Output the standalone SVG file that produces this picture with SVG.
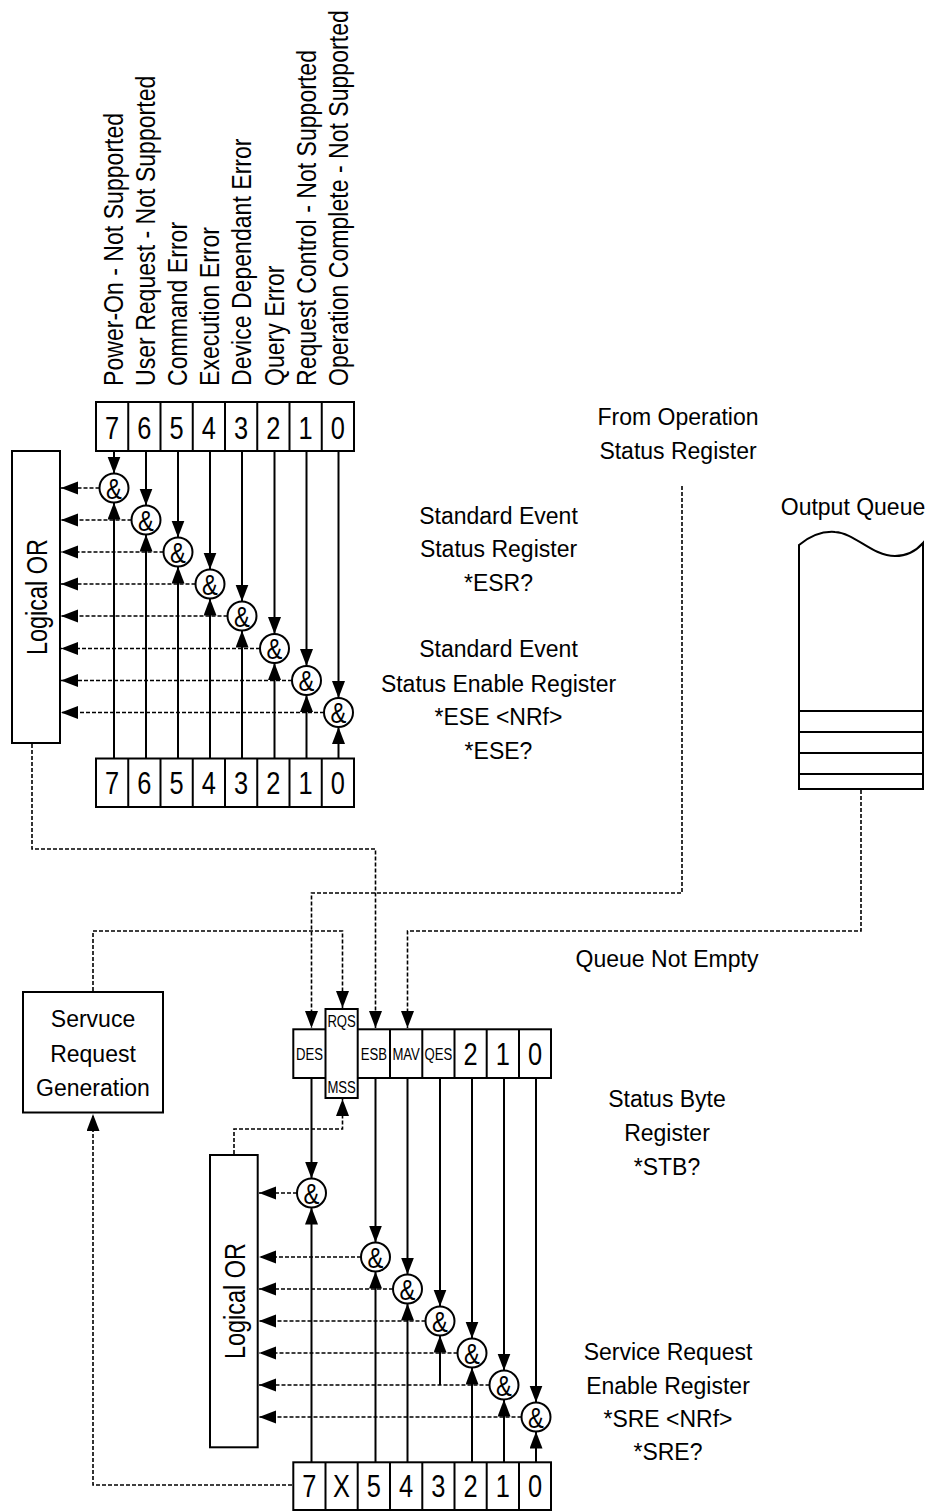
<svg xmlns="http://www.w3.org/2000/svg" width="930" height="1511" viewBox="0 0 930 1511">
<defs>
<marker id="ah" markerWidth="18" markerHeight="14" refX="17" refY="6.5" orient="auto" markerUnits="userSpaceOnUse" viewBox="0 0 18 14"><path d="M0,0 L17,6.5 L0,13 Z" fill="#000"/></marker>
<style>
.bx{fill:#fff;stroke:#000;stroke-width:2}
.dv{fill:none;stroke:#000;stroke-width:2}
.sl{fill:none;stroke:#000;stroke-width:2;marker-end:url(#ah)}
.dl{fill:none;stroke:#000;stroke-width:1.6;stroke-dasharray:4 2}
.da{fill:none;stroke:#000;stroke-width:1.6;stroke-dasharray:4 2;marker-end:url(#ah)}
.t{font-family:"Liberation Sans",Arial,sans-serif;font-size:23px;text-anchor:middle;fill:#000}
.lb{font-family:"Liberation Sans",Arial,sans-serif;font-size:28.5px;fill:#000}
.or{font-family:"Liberation Sans",Arial,sans-serif;font-size:29px;text-anchor:middle;fill:#000}
.dg{font-family:"Liberation Sans",Arial,sans-serif;font-size:31px;text-anchor:middle;fill:#000}
.sm{font-family:"Liberation Sans",Arial,sans-serif;font-size:16px;text-anchor:middle;fill:#000}
.amp{font-family:"Liberation Sans",Arial,sans-serif;font-size:29px;text-anchor:middle;fill:#000}
</style>
</defs>
<rect width="930" height="1511" fill="#fff"/>

<!-- top labels -->
<g id="bit-labels">
<text class="lb" transform="translate(122.5,386) rotate(-90) scale(0.81,1)">Power-On - Not Supported</text>
<text class="lb" transform="translate(154.7,386) rotate(-90) scale(0.81,1)">User Request - Not Supported</text>
<text class="lb" transform="translate(186.9,386) rotate(-90) scale(0.81,1)">Command Error</text>
<text class="lb" transform="translate(219.1,386) rotate(-90) scale(0.81,1)">Execution Error</text>
<text class="lb" transform="translate(251.3,386) rotate(-90) scale(0.81,1)">Device Dependant Error</text>
<text class="lb" transform="translate(283.5,386) rotate(-90) scale(0.81,1)">Query Error</text>
<text class="lb" transform="translate(315.7,386) rotate(-90) scale(0.81,1)">Request Control - Not Supported</text>
<text class="lb" transform="translate(347.9,386) rotate(-90) scale(0.81,1)">Operation Complete - Not Supported</text>
</g>

<!-- Standard Event Status Register -->
<g id="esr-register">
<rect class="bx" x="96" y="402" width="258" height="49"/>
<path class="dv" d="M128.25,402V451M160.5,402V451M192.75,402V451M225,402V451M257.25,402V451M289.5,402V451M321.75,402V451"/>
<g transform="translate(0,438.5)">
<text class="dg" transform="translate(112.1,0) scale(0.82,1)">7</text>
<text class="dg" transform="translate(144.4,0) scale(0.82,1)">6</text>
<text class="dg" transform="translate(176.6,0) scale(0.82,1)">5</text>
<text class="dg" transform="translate(208.9,0) scale(0.82,1)">4</text>
<text class="dg" transform="translate(241.1,0) scale(0.82,1)">3</text>
<text class="dg" transform="translate(273.4,0) scale(0.82,1)">2</text>
<text class="dg" transform="translate(305.6,0) scale(0.82,1)">1</text>
<text class="dg" transform="translate(337.9,0) scale(0.82,1)">0</text>
</g>
</g>

<!-- Standard Event Status Enable Register -->
<g id="ese-register">
<rect class="bx" x="96" y="758.5" width="258" height="48.5"/>
<path class="dv" d="M128.25,758.5V807M160.5,758.5V807M192.75,758.5V807M225,758.5V807M257.25,758.5V807M289.5,758.5V807M321.75,758.5V807"/>
<g transform="translate(0,794)">
<text class="dg" transform="translate(112.1,0) scale(0.82,1)">7</text>
<text class="dg" transform="translate(144.4,0) scale(0.82,1)">6</text>
<text class="dg" transform="translate(176.6,0) scale(0.82,1)">5</text>
<text class="dg" transform="translate(208.9,0) scale(0.82,1)">4</text>
<text class="dg" transform="translate(241.1,0) scale(0.82,1)">3</text>
<text class="dg" transform="translate(273.4,0) scale(0.82,1)">2</text>
<text class="dg" transform="translate(305.6,0) scale(0.82,1)">1</text>
<text class="dg" transform="translate(337.9,0) scale(0.82,1)">0</text>
</g>
</g>

<!-- Upper Logical OR -->
<g id="or-upper">
<rect class="bx" x="12" y="451" width="48" height="292"/>
<text class="or" transform="translate(47,597) rotate(-90) scale(0.81,1)">Logical OR</text>
</g>

<!-- Output queue -->
<g id="output-queue">
<path class="bx" d="M799,545 C810,536 822,531 835,532 C855,533 872,556 895,556 C907,556 916,551 923,543 L923,789 L799,789 Z"/>
<path class="dv" d="M799,711H923M799,732H923M799,753H923M799,774H923"/>
<text class="t" x="853" y="515">Output Queue</text>
</g>

<!-- Status Byte Register -->
<g id="stb-register">
<rect class="bx" x="293.3" y="1029.3" width="257.7" height="48.7"/>
<path class="dv" d="M390,1029.3V1078M422.3,1029.3V1078M454.5,1029.3V1078M486.7,1029.3V1078M519,1029.3V1078"/>
<rect class="bx" x="325.5" y="1009" width="32.2" height="89"/>
<text class="sm" transform="translate(309.5,1060) scale(0.82,1)">DES</text>
<text class="sm" transform="translate(341.6,1026.5) scale(0.82,1)">RQS</text>
<text class="sm" transform="translate(341.6,1093.3) scale(0.82,1)">MSS</text>
<text class="sm" transform="translate(373.8,1060) scale(0.82,1)">ESB</text>
<text class="sm" transform="translate(406.1,1060) scale(0.82,1)">MAV</text>
<text class="sm" transform="translate(438.4,1060) scale(0.82,1)">QES</text>
<text class="dg" transform="translate(470.6,1065) scale(0.82,1)">2</text>
<text class="dg" transform="translate(502.8,1065) scale(0.82,1)">1</text>
<text class="dg" transform="translate(535,1065) scale(0.82,1)">0</text>
</g>

<!-- Service Request Enable Register -->
<g id="sre-register">
<rect class="bx" x="293.3" y="1462.3" width="257.7" height="47.7"/>
<path class="dv" d="M325.5,1462.3V1510M357.7,1462.3V1510M390,1462.3V1510M422.3,1462.3V1510M454.5,1462.3V1510M486.7,1462.3V1510M519,1462.3V1510"/>
<g transform="translate(0,1497)">
<text class="dg" transform="translate(309.4,0) scale(0.82,1)">7</text>
<text class="dg" transform="translate(341.6,0) scale(0.82,1)">X</text>
<text class="dg" transform="translate(373.8,0) scale(0.82,1)">5</text>
<text class="dg" transform="translate(406.1,0) scale(0.82,1)">4</text>
<text class="dg" transform="translate(438.4,0) scale(0.82,1)">3</text>
<text class="dg" transform="translate(470.6,0) scale(0.82,1)">2</text>
<text class="dg" transform="translate(502.8,0) scale(0.82,1)">1</text>
<text class="dg" transform="translate(535,0) scale(0.82,1)">0</text>
</g>
</g>

<!-- Lower Logical OR -->
<g id="or-lower">
<rect class="bx" x="210" y="1155" width="47.7" height="292.3"/>
<text class="or" transform="translate(245,1301) rotate(-90) scale(0.81,1)">Logical OR</text>
</g>

<!-- Service request generation -->
<g id="srq-gen">
<rect class="bx" x="23" y="992" width="140" height="120.5"/>
<text class="t" x="93" y="1027">Servuce</text>
<text class="t" x="93" y="1061.5">Request</text>
<text class="t" x="93" y="1096">Generation</text>
</g>

<!-- connectors -->
<g id="connectors">
<path class="sl" d="M114,451V473.5"/>
<path class="sl" d="M146,451V505.5"/>
<path class="sl" d="M178,451V537.5"/>
<path class="sl" d="M210,451V569.5"/>
<path class="sl" d="M242,451V601.5"/>
<path class="sl" d="M274.5,451V634"/>
<path class="sl" d="M306.5,451V666"/>
<path class="sl" d="M338.5,451V698"/>
<path class="sl" d="M114,758.5V502.5"/>
<path class="sl" d="M146,758.5V534.5"/>
<path class="sl" d="M178,758.5V566.5"/>
<path class="sl" d="M210,758.5V598.5"/>
<path class="sl" d="M242,758.5V630.5"/>
<path class="sl" d="M274.5,758.5V663"/>
<path class="sl" d="M306.5,758.5V695"/>
<path class="sl" d="M338.5,758.5V727"/>
<path class="da" d="M99.5,488H61"/>
<path class="da" d="M131.5,520H61"/>
<path class="da" d="M163.5,552H61"/>
<path class="da" d="M195.5,584H61"/>
<path class="da" d="M227.5,616H61"/>
<path class="da" d="M260,648.5H61"/>
<path class="da" d="M292,680.5H61"/>
<path class="da" d="M324,712.5H61"/>

<path class="sl" d="M311.5,1078V1178.5"/>
<path class="sl" d="M375.5,1078V1242.5"/>
<path class="sl" d="M407.5,1078V1274.5"/>
<path class="sl" d="M440,1078V1306.5"/>
<path class="sl" d="M472,1078V1338.5"/>
<path class="sl" d="M504,1078V1370.5"/>
<path class="sl" d="M536,1078V1402.5"/>
<path class="sl" d="M311.5,1462V1207.5"/>
<path class="sl" d="M375.5,1462V1271.5"/>
<path class="sl" d="M407.5,1462V1303.5"/>
<path class="sl" d="M440,1385V1335.5"/>
<path class="sl" d="M472,1462V1367.5"/>
<path class="sl" d="M504,1462V1399.5"/>
<path class="sl" d="M536,1462V1431.5"/>
<path class="da" d="M297,1193H259"/>
<path class="da" d="M361,1257H259"/>
<path class="da" d="M393,1289H259"/>
<path class="da" d="M425.5,1321H259"/>
<path class="da" d="M457.5,1353H259"/>
<path class="da" d="M489.5,1385H259"/>
<path class="da" d="M521.5,1417H259"/>

<path class="da" d="M32,744V849H375.5V1028"/>
<path class="da" d="M682,486V893H311.5V1028"/>
<path class="da" d="M861,790V931H407.5V1028"/>
<path class="da" d="M93,991V931H342.5V1008"/>
<path class="da" d="M234,1154V1129H342.5V1099"/>
<path class="da" d="M292,1485H93V1114"/>
</g>

<!-- AND gates -->
<g id="gates-upper">
<g id="gate-e7"><circle class="bx" cx="114" cy="488" r="14.5"/><text class="amp" transform="translate(114,498.5) scale(0.82,1)">&amp;</text></g>
<g id="gate-e6"><circle class="bx" cx="146" cy="520" r="14.5"/><text class="amp" transform="translate(146,530.5) scale(0.82,1)">&amp;</text></g>
<g id="gate-e5"><circle class="bx" cx="178" cy="552" r="14.5"/><text class="amp" transform="translate(178,562.5) scale(0.82,1)">&amp;</text></g>
<g id="gate-e4"><circle class="bx" cx="210" cy="584" r="14.5"/><text class="amp" transform="translate(210,594.5) scale(0.82,1)">&amp;</text></g>
<g id="gate-e3"><circle class="bx" cx="242" cy="616" r="14.5"/><text class="amp" transform="translate(242,626.5) scale(0.82,1)">&amp;</text></g>
<g id="gate-e2"><circle class="bx" cx="274.5" cy="648.5" r="14.5"/><text class="amp" transform="translate(274.5,659) scale(0.82,1)">&amp;</text></g>
<g id="gate-e1"><circle class="bx" cx="306.5" cy="680.5" r="14.5"/><text class="amp" transform="translate(306.5,691) scale(0.82,1)">&amp;</text></g>
<g id="gate-e0"><circle class="bx" cx="338.5" cy="712.5" r="14.5"/><text class="amp" transform="translate(338.5,723) scale(0.82,1)">&amp;</text></g>
</g>
<g id="gates-lower">
<g id="gate-s7"><circle class="bx" cx="311.5" cy="1193" r="14.5"/><text class="amp" transform="translate(311.5,1203.5) scale(0.82,1)">&amp;</text></g>
<g id="gate-s5"><circle class="bx" cx="375.5" cy="1257" r="14.5"/><text class="amp" transform="translate(375.5,1267.5) scale(0.82,1)">&amp;</text></g>
<g id="gate-s4"><circle class="bx" cx="407.5" cy="1289" r="14.5"/><text class="amp" transform="translate(407.5,1299.5) scale(0.82,1)">&amp;</text></g>
<g id="gate-s3"><circle class="bx" cx="440" cy="1321" r="14.5"/><text class="amp" transform="translate(440,1331.5) scale(0.82,1)">&amp;</text></g>
<g id="gate-s2"><circle class="bx" cx="472" cy="1353" r="14.5"/><text class="amp" transform="translate(472,1363.5) scale(0.82,1)">&amp;</text></g>
<g id="gate-s1"><circle class="bx" cx="504" cy="1385" r="14.5"/><text class="amp" transform="translate(504,1395.5) scale(0.82,1)">&amp;</text></g>
<g id="gate-s0"><circle class="bx" cx="536" cy="1417" r="14.5"/><text class="amp" transform="translate(536,1427.5) scale(0.82,1)">&amp;</text></g>
</g>

<!-- free labels -->
<g id="labels">
<text class="t" x="678" y="424.5">From Operation</text>
<text class="t" x="678" y="459">Status Register</text>
<text class="t" x="498.5" y="524">Standard Event</text>
<text class="t" x="498.5" y="557">Status Register</text>
<text class="t" x="498.5" y="590.5">*ESR?</text>
<text class="t" x="498.5" y="657">Standard Event</text>
<text class="t" x="498.5" y="691.5">Status Enable Register</text>
<text class="t" x="498.5" y="725">*ESE &lt;NRf&gt;</text>
<text class="t" x="498.5" y="758.5">*ESE?</text>
<text class="t" x="667" y="966.5">Queue Not Empty</text>
<text class="t" x="667" y="1107">Status Byte</text>
<text class="t" x="667" y="1141">Register</text>
<text class="t" x="667" y="1175">*STB?</text>
<text class="t" x="668" y="1360">Service Request</text>
<text class="t" x="668" y="1394">Enable Register</text>
<text class="t" x="668" y="1427">*SRE &lt;NRf&gt;</text>
<text class="t" x="668" y="1460">*SRE?</text>
</g>
</svg>
